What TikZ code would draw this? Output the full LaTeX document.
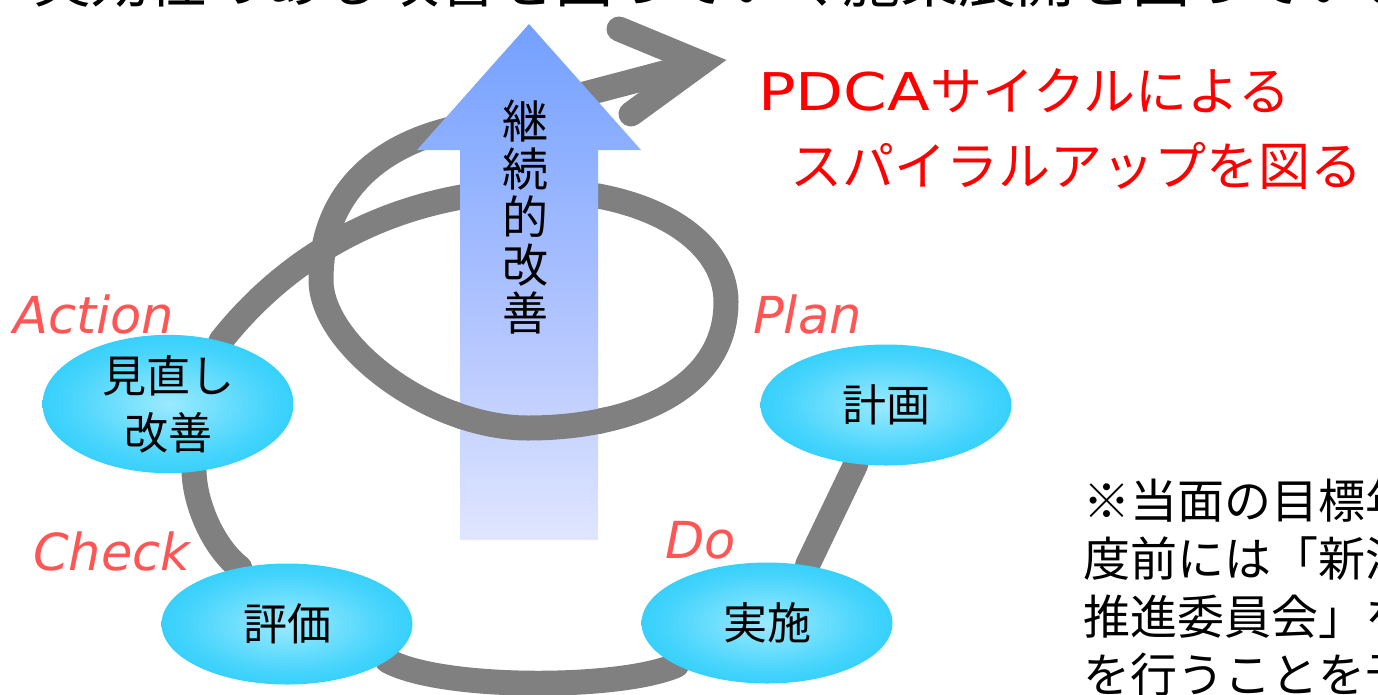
\documentclass[tikz,border=0pt]{standalone}
\usepackage{fontspec}
\usepackage{graphicx}
\setmainfont{Noto Sans CJK JP}
\newfontfamily\labelfont{DejaVu Sans}
\newfontfamily\latinfont{DejaVu Sans}
\usetikzlibrary{shapes.geometric,backgrounds}

\definecolor{spiralgray}{RGB}{128,128,128}
\definecolor{ovalin}{RGB}{155,234,255}
\definecolor{ovalmid}{RGB}{70,212,252}
\definecolor{ovalout}{RGB}{10,199,248}
\definecolor{labelred}{RGB}{255,85,85}
\definecolor{fadetop}{RGB}{100,150,255}
\definecolor{fadehigh}{RGB}{115,160,255}
\definecolor{fademid}{RGB}{180,198,255}
\definecolor{fadelow}{RGB}{228,233,255}
\definecolor{fadebot}{RGB}{250,251,255}

\pgfdeclareradialshading{ovalglow}{\pgfpoint{0bp}{0bp}}{color(0bp)=(ovalin); color(20bp)=(ovalmid); color(40bp)=(ovalout); color(50bp)=(ovalout)}
\pgfdeclareverticalshading{upfade}{100bp}{color(0bp)=(fadebot); color(23bp)=(fadelow); color(45bp)=(fademid); color(75bp)=(fadehigh); color(100bp)=(fadetop)}

\tikzset{
  oval/.style={ellipse,shade,shading=ovalglow,minimum width=251pt,minimum height=121pt,
    inner sep=0pt,align=center,font=\fontsize{44}{57}\selectfont},
  phase/.style={anchor=base west,inner sep=0pt,text=labelred,
    font=\labelfont\itshape\fontsize{51}{60}\selectfont},
  heading/.style={anchor=base west,inner sep=0pt,text=red,font=\fontsize{52}{60}\selectfont},
  note/.style={anchor=base west,inner sep=0pt,font=\fontsize{47}{58}\selectfont},
  spiral/.style={draw=spiralgray,line width=25pt,line cap=round},
}

\begin{document}
\begin{tikzpicture}[x=1pt,y=-1pt]
  \useasboundingbox (0,0) rectangle (1378,694);
  \clip (0,0) rectangle (1378,694);

  % the four steps
  \node[oval] (act) at (168,404) {見直し\\改善};
  \node[oval] (pln) at (886,405) {計画};
  \node[oval] (imp) at (767,623) {実施};
  \node[oval] (chk) at (287,624) {評価};

  \node[phase] (actlbl) at (13,333) {Action};
  \node[phase] (plnlbl) at (753,333) {Plan};
  \node[phase] (chklbl) at (33,570) {Check};
  \node[phase] (implbl) at (665,558) {Do};

  \node[heading] (pdca1) at (758,110) {\scalebox{1.2}[1]{\latinfont PDCA}サイクルによる};
  \node[heading] (pdca2) at (790,185) {スパイラルアップを図る};

  \node[font=\fontsize{46}{48}\selectfont,align=center,inner sep=0pt] (kaizen) at (525,217)
    {継\\続\\的\\改\\善};

  \node[anchor=base west,inner sep=0pt,font=\fontsize{58}{60}\selectfont] (topline) at (-25,2)
    {、実効性のある改善を図っていく施策展開を図っていきます};

  \foreach \txt [count=\i] in {※当面の目標年,度前には「新潟,推進委員会」を,を行うことを予}
    \node[note] (note\i) at (1083,460+58*\i) {\txt};

  \begin{scope}[on background layer]
    % ring between the steps
    \draw[spiral] (act.-69) .. controls (195,505) and (214,548) .. (chk.130);
    \draw[spiral] (chk.-20) .. controls (440,690) and (620,690) .. (imp.205);
    \draw[spiral] (imp.55) -- (pln.243);

    % spiral going up
    \draw[spiral] (act.50) .. controls (265,285) and (360,195) .. (530,190)
      .. controls (650,190) and (726,240) .. (726,302)
      .. controls (726,390) and (630,428) .. (528,428)
      .. controls (430,428) and (321,345) .. (321,280)
      .. controls (321,200) and (370,150) .. (447,130)
      .. controls (530,108) and (620,85) .. (701,63);
    \draw[spiral,line join=miter] (619,29) -- (701,63) -- (631,114);

    \shade[shading=upfade] (460,540) -- (460,150) -- (417,150) -- (529,24)
      -- (641,150) -- (598,150) -- (598,540) -- cycle;

    % front part of the loop
    \begin{scope}
      \clip (455,395) rectangle (605,460);
      \draw[spiral] (726,302) .. controls (726,390) and (630,428) .. (528,428)
        .. controls (430,428) and (321,345) .. (321,280);
    \end{scope}
  \end{scope}
\end{tikzpicture}
\end{document}
